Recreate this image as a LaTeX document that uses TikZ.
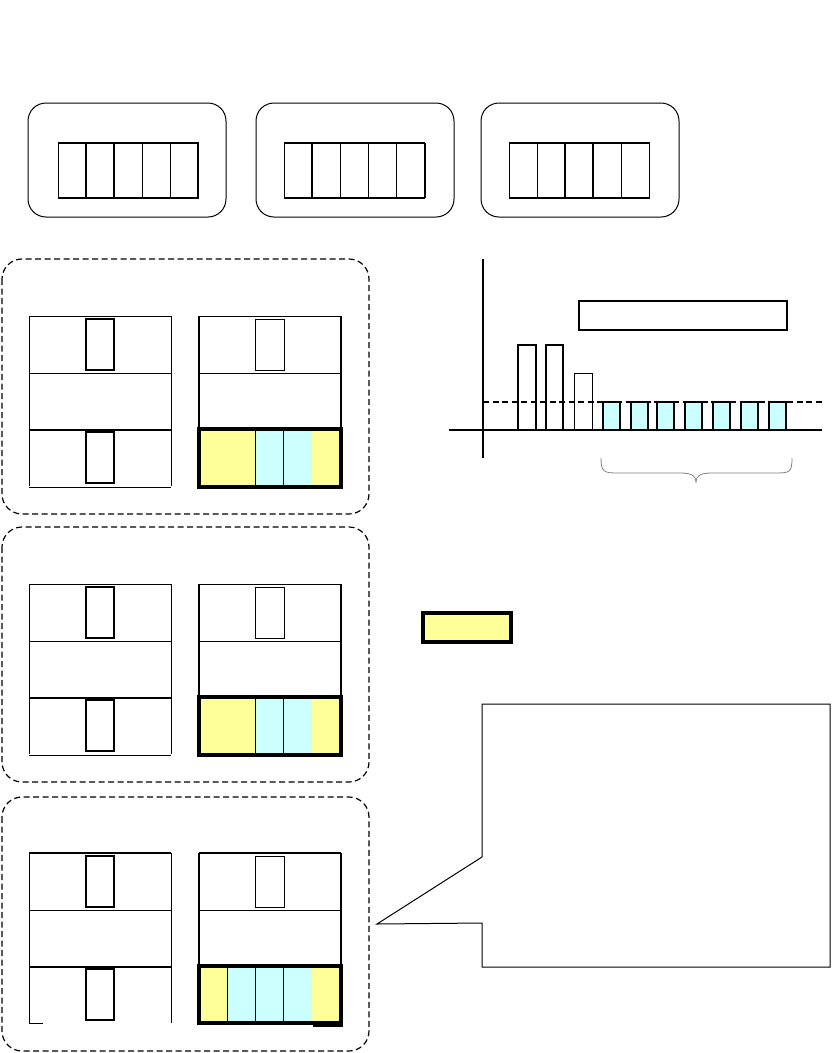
\documentclass[tikz,border=0pt]{standalone}
\definecolor{yel}{HTML}{FFFF99}
\definecolor{cya}{HTML}{CCFFFF}
\begin{document}
\begin{tikzpicture}[x=1pt,y=-1pt,
  tbox/.style={draw, rounded corners=18pt, line width=1pt},
  panel/.style={draw, dash pattern=on 6pt off 3.5pt, rounded corners=20pt, line width=1.2pt},
  thinl/.style={line width=0.9pt},
  thickl/.style={line width=2pt},
  win/.style={draw, line width=2pt},
  ycell/.style={fill=yel},
  ccell/.style={fill=cya, draw, line width=1pt},
  bar/.style={draw, line width=2pt},
  cbar/.style={draw, fill=cya, line width=2pt}]
\useasboundingbox (0,0) rectangle (831,1053);
% top rounded boxes with strips
\foreach \bl/\sl in {28/58, 256/284, 481/509}{
  \draw[tbox] (\bl,103) rectangle ++(198,114);
  \foreach \i in {0,...,4}{
    \draw[thinl] (\sl+28*\i,143) rectangle ++(28,55);
  }
  \draw[thickl] (\sl,143) -- ++(141,0);
  \draw[thickl] (\sl,198) -- ++(141,0);
}
\draw[thickl] (86,143) -- (86,198); \draw[thickl] (114,143) -- (114,198); \draw[thickl] (198,143) -- (198,198);
\draw[thickl] (312,143) -- (312,198); \draw[thickl] (425,143) -- (425,198);
\draw[thickl] (565,143) -- (565,198); \draw[thickl] (593,143) -- (593,198);
% dashed panels
\draw[panel] (2,259) rectangle (369,514);
\draw[panel] (2,527) rectangle (369,782);
\draw[panel] (2,797) rectangle (369,1051);
% buildings
\foreach \y/\k in {316/1, 584/2, 853/3}{
  % left building
  \draw[thinl] (29,\y+57) -- (171,\y+57);
  \draw[thickl] (29,\y+114) -- (171,\y+114);
  \draw[thinl] (29,\y) -- (29,\y+170);
  \draw[thinl] (171,\y) -- (171,\y+170);
  \ifnum\k=3
    \draw[thickl] (29,\y) -- (171,\y);
    \draw[thinl] (29,\y+170) -- (43,\y+170);
  \else
    \draw[thinl] (29,\y) -- (171,\y);
    \draw[thinl] (29,\y+171) -- (171,\y+171);
  \fi
  \draw[win] (86,\y+3) rectangle (114,\y+54);
  \draw[win] (86,\y+116) rectangle (114,\y+167);
  % right building
  \ifnum\k=3 \draw[thickl] (199,\y) -- (341,\y); \else \draw[thinl] (199,\y) -- (341,\y); \fi
  \draw[thinl] (199,\y+57) -- (341,\y+57);
  \draw[line width=1.4pt] (199,\y) -- (199,\y+112);
  \draw[line width=1.4pt] (341,\y) -- (341,\y+112);
  \draw[thinl] (255,\y+3) rectangle (284,\y+54);
  \ifnum\k=3
    \fill[yel] (200,\y+114) rectangle (227,\y+171);
    \draw[ccell] (227,\y+114) rectangle (255,\y+171);
    \draw[ccell] (255,\y+114) rectangle (283,\y+171);
    \draw[ccell] (283,\y+114) rectangle (312,\y+171);
    \fill[yel] (312,\y+114) rectangle (340,\y+171);
    \draw[line width=4pt] (199,\y+113) rectangle (341,\y+170);
    \fill (313,\y+168) rectangle (343,\y+174);
  \else
    \fill[yel] (200,\y+114) rectangle (255,\y+171);
    \draw[ccell] (255,\y+114) rectangle (283,\y+171);
    \draw[ccell] (283,\y+114) rectangle (312,\y+171);
    \fill[yel] (312,\y+114) rectangle (340,\y+171);
    \draw[line width=4pt] (199,\y+113) rectangle (341,\y+171);
  \fi
}
% chart
\draw[line width=1.5pt, dash pattern=on 6pt off 3.5pt] (483,402) -- (822,402);
\draw[bar] (518,430) rectangle (536,345);
\draw[bar] (546,430) rectangle (563,345);
\draw[line width=1pt] (574,430) rectangle (592,373);
\foreach \x in {603,631,657,685,713,741,769}{
  \draw[cbar] (\x,430) rectangle ++(17,-28);
}
\draw[line width=2pt] (483,259) -- (483,458);
\draw[line width=2pt] (449,430) -- (822,430);
\draw[line width=2pt] (579,301) rectangle (787,330);
\draw[gray, line width=0.8pt] (601,458) .. controls (601,472) and (604,473) .. (618,473) -- (680,473)
  .. controls (692,473) and (696,476) .. (696,482) .. controls (696,476) and (700,473) .. (712,473)
  -- (776,473) .. controls (790,473) and (792,472) .. (792,458);
% legend
\draw[fill=yel, line width=3.5pt] (423,613) rectangle (511,642);
% callout
\draw[line width=1pt] (482,704) -- (830,704) -- (830,967) -- (482,967) -- (482,923) -- (377,924) -- (482,857) -- cycle;
\end{tikzpicture}
\end{document}
